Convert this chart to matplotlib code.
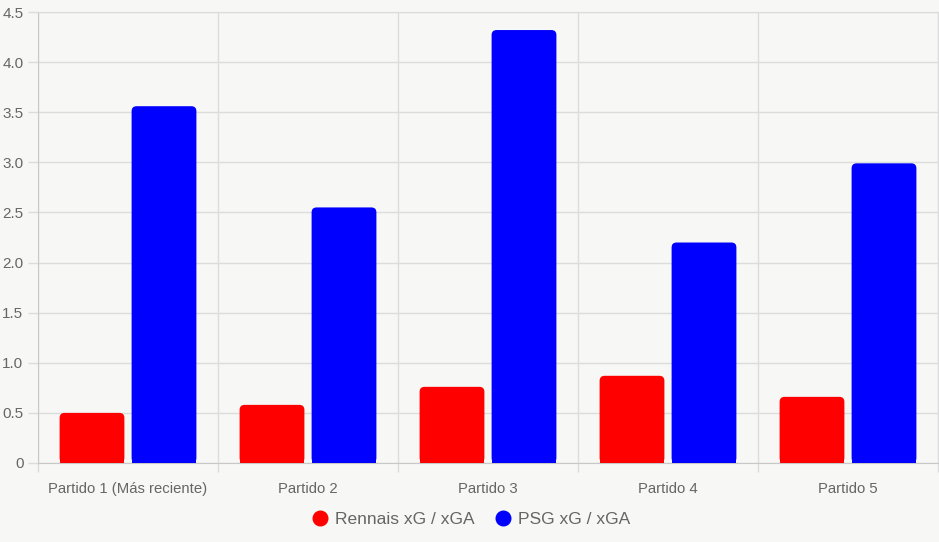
import numpy as np
import matplotlib.pyplot as plt
from matplotlib.patches import FancyBboxPatch, Rectangle
from matplotlib.lines import Line2D

plt.rcParams['font.family'] = ['Liberation Sans', 'DejaVu Sans']

partidos = ["Partido 1 (Más reciente)", "Partido 2", "Partido 3", "Partido 4", "Partido 5"]
rennais = [0.50, 0.58, 0.76, 0.87, 0.66]
psg = [3.56, 2.55, 4.32, 2.20, 2.99]
series_names = ["Rennais xG / xGA", "PSG xG / xGA"]
colors = ["#ff0000", "#0000ff"]

bg = "#f7f7f5"
grid_c = "#dcdcdc"
text_c = "#666666"

fig = plt.figure(figsize=(9.39, 5.42), dpi=100, facecolor=bg)
ax = fig.add_axes([38/939, 79/542, 900/939, 451/542], facecolor=bg)

x = np.arange(len(partidos))
w = 0.36
radius_x = 5/180
aspect = (5/100.2) / radius_x

for vals, off, c in [(rennais, -0.2, colors[0]), (psg, 0.2, colors[1])]:
    bars = ax.bar(x + off, vals, w, color=c, zorder=3)
    for b in bars:
        b.set_visible(False)
        bx, bw, bh = b.get_x(), b.get_width(), b.get_height()
        ax.add_patch(FancyBboxPatch((bx, 0), bw, bh,
                                    boxstyle="round,pad=0,rounding_size=%f" % radius_x,
                                    mutation_aspect=aspect, fc=c, ec="none", zorder=3))
        ax.add_patch(Rectangle((bx, 0), bw, bh/2, fc=c, ec="none", zorder=3))

ax.set_xlim(-0.5, 4.5)
ax.set_ylim(0, 4.5)
ax.set_yticks(np.arange(0, 4.51, 0.5))
ax.set_yticklabels(["0"] + ["%.1f" % v for v in np.arange(0.5, 4.51, 0.5)])
ax.set_xticks(x)
ax.set_xticklabels(partidos)
ax.set_xticks(np.arange(-0.5, 4.6, 1), minor=True)

ax.grid(True, axis='y', which='major', color=grid_c, lw=1, zorder=0)
ax.grid(True, axis='x', which='minor', color=grid_c, lw=1, zorder=0)
ax.tick_params(axis='x', which='major', length=0, pad=14, labelsize=10.7, labelcolor=text_c)
ax.tick_params(axis='x', which='minor', length=6.5, color=grid_c, width=1)
ax.tick_params(axis='y', length=7.5, color=grid_c, width=1, pad=3, labelsize=11, labelcolor=text_c)
for s in ax.spines.values():
    s.set_color(grid_c)
ax.spines['bottom'].set_color("#c8c8c8")
ax.spines['left'].set_color("#c8c8c8")

handles = [Line2D([], [], marker='o', ls='none', ms=10.5, mfc=c, mec=c) for c in colors]
fig.legend(handles, series_names, loc='center', bbox_to_anchor=(470/939, 1 - 519/542),
           ncol=2, frameon=False, fontsize=12.5, labelcolor=text_c,
           handletextpad=0.3, columnspacing=1.0, handlelength=1.2)

fig.savefig("out.png", dpi=100, facecolor=bg)
